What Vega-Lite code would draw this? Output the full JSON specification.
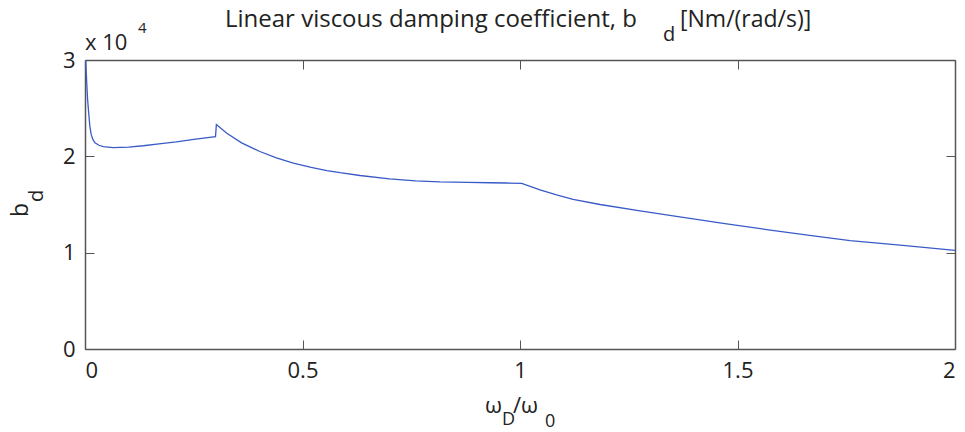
{
  "$schema": "https://vega.github.io/schema/vega-lite/v6.json",
  "width": 870,
  "height": 289,
  "autosize": "none",
  "padding": {"left": 85, "top": 60, "right": 10, "bottom": 83},
  "background": "white",
  "config": {
    "view": {"stroke": null},
    "font": "Open Sans",
    "axis": {
      "grid": false,
      "domainColor": "#555555",
      "domainWidth": 1.5,
      "tickColor": "#555555",
      "tickWidth": 1,
      "tickSize": -9,
      "labelFont": "Open Sans",
      "labelFontSize": 22,
      "labelColor": "#222222",
      "labelPadding": 19,
      "title": null
    },
    "text": {"font": "Open Sans", "color": "#222222", "fontSize": 22, "fontWeight": "normal", "align": "left", "baseline": "alphabetic"}
  },
  "layer": [
    {
      "data": {
        "name": "curve",
        "values": [
          {"w": 0.0012, "b": 30500},
          {"w": 0.002, "b": 29700},
          {"w": 0.004, "b": 27600},
          {"w": 0.006, "b": 25900},
          {"w": 0.0085, "b": 24500},
          {"w": 0.011, "b": 23200},
          {"w": 0.014, "b": 22300},
          {"w": 0.018, "b": 21750},
          {"w": 0.023, "b": 21400},
          {"w": 0.032, "b": 21150},
          {"w": 0.042, "b": 21000},
          {"w": 0.065, "b": 20900},
          {"w": 0.1, "b": 20950},
          {"w": 0.134, "b": 21100},
          {"w": 0.17, "b": 21300},
          {"w": 0.21, "b": 21500},
          {"w": 0.25, "b": 21750},
          {"w": 0.3, "b": 22050},
          {"w": 0.302, "b": 23300},
          {"w": 0.326, "b": 22400},
          {"w": 0.36, "b": 21400},
          {"w": 0.402, "b": 20500},
          {"w": 0.44, "b": 19850},
          {"w": 0.479, "b": 19300},
          {"w": 0.52, "b": 18850},
          {"w": 0.556, "b": 18520},
          {"w": 0.586, "b": 18300},
          {"w": 0.632, "b": 18010},
          {"w": 0.7, "b": 17670},
          {"w": 0.76, "b": 17460},
          {"w": 0.816, "b": 17350},
          {"w": 0.88, "b": 17290},
          {"w": 0.931, "b": 17260},
          {"w": 0.97, "b": 17230},
          {"w": 1.004, "b": 17200},
          {"w": 1.046, "b": 16510},
          {"w": 1.084, "b": 15990},
          {"w": 1.122, "b": 15540},
          {"w": 1.184, "b": 15000},
          {"w": 1.276, "b": 14330},
          {"w": 1.375, "b": 13670},
          {"w": 1.467, "b": 13050},
          {"w": 1.567, "b": 12400},
          {"w": 1.67, "b": 11770},
          {"w": 1.759, "b": 11250},
          {"w": 1.88, "b": 10760},
          {"w": 2.0, "b": 10240}
        ]
      },
      "layer": [
        {
          "mark": {"type": "line", "color": "#3a5bc7", "strokeWidth": 1.3, "clip": true},
          "encoding": {
            "x": {"field": "w", "type": "quantitative", "scale": {"domain": [0, 2], "nice": false, "zero": false},
                  "axis": {"orient": "bottom", "values": [0, 0.5, 1, 1.5, 2], "labelExpr": "datum.value + ''", "labelPadding": 20, "labelBaseline": "top"}},
            "y": {"field": "b", "type": "quantitative", "scale": {"domain": [0, 30000], "nice": false, "zero": false},
                  "axis": {"orient": "left", "values": [0, 10000, 20000, 30000], "labelExpr": "datum.value / 10000 + ''"}}
          }
        },
        {
          "mark": {"type": "line", "opacity": 0},
          "encoding": {
            "x": {"field": "w", "type": "quantitative", "axis": {"orient": "top", "values": [0, 0.5, 1, 1.5, 2], "labels": false}},
            "y": {"field": "b", "type": "quantitative", "axis": {"orient": "right", "values": [0, 10000, 20000, 30000], "labels": false}}
          }
        }
      ],
      "resolve": {"axis": {"x": "independent", "y": "independent"}}
    },
    {
      "data": {"values": [{}]},
      "mark": {"type": "text", "fontSize": 24},
      "encoding": {
        "x": {"datum": 0.3218, "type": "quantitative", "axis": null},
        "y": {"datum": 33426, "type": "quantitative", "axis": null},
        "text": {"value": "Linear viscous damping coefficient, b"}
      }
    },
    {
      "data": {"values": [{}]},
      "mark": {"type": "text", "fontSize": 20},
      "encoding": {
        "x": {"datum": 1.3287, "type": "quantitative", "axis": null},
        "y": {"datum": 31972, "type": "quantitative", "axis": null},
        "text": {"value": "d"}
      }
    },
    {
      "data": {"values": [{}]},
      "mark": {"type": "text", "fontSize": 23},
      "encoding": {
        "x": {"datum": 1.3678, "type": "quantitative", "axis": null},
        "y": {"datum": 33426, "type": "quantitative", "axis": null},
        "text": {"value": "[Nm/(rad/s)]"}
      }
    },
    {
      "data": {"values": [{}]},
      "mark": {"type": "text"},
      "encoding": {
        "x": {"datum": 0, "type": "quantitative", "axis": null},
        "y": {"datum": 31038, "type": "quantitative", "axis": null},
        "text": {"value": "x 10"}
      }
    },
    {
      "data": {"values": [{}]},
      "mark": {"type": "text", "fontSize": 15},
      "encoding": {
        "x": {"datum": 0.1218, "type": "quantitative", "axis": null},
        "y": {"datum": 32803, "type": "quantitative", "axis": null},
        "text": {"value": "4"}
      }
    },
    {
      "data": {"values": [{}]},
      "mark": {"type": "text", "angle": 270, "fontSize": 23},
      "encoding": {
        "x": {"datum": -0.131, "type": "quantitative", "axis": null},
        "y": {"datum": 13702, "type": "quantitative", "axis": null},
        "text": {"value": "b"}
      }
    },
    {
      "data": {"values": [{}]},
      "mark": {"type": "text", "angle": 270, "fontSize": 20},
      "encoding": {
        "x": {"datum": -0.0966, "type": "quantitative", "axis": null},
        "y": {"datum": 15260, "type": "quantitative", "axis": null},
        "text": {"value": "d"}
      }
    },
    {
      "data": {"values": [{}]},
      "mark": {"type": "text"},
      "encoding": {
        "x": {"datum": 0.9195, "type": "quantitative", "axis": null},
        "y": {"datum": -6644, "type": "quantitative", "axis": null},
        "text": {"value": "ω"}
      }
    },
    {
      "data": {"values": [{}]},
      "mark": {"type": "text", "fontSize": 18},
      "encoding": {
        "x": {"datum": 0.9586, "type": "quantitative", "axis": null},
        "y": {"datum": -7889, "type": "quantitative", "axis": null},
        "text": {"value": "D"}
      }
    },
    {
      "data": {"values": [{}]},
      "mark": {"type": "text"},
      "encoding": {
        "x": {"datum": 0.9839, "type": "quantitative", "axis": null},
        "y": {"datum": -6644, "type": "quantitative", "axis": null},
        "text": {"value": "/ω"}
      }
    },
    {
      "data": {"values": [{}]},
      "mark": {"type": "text", "fontSize": 18},
      "encoding": {
        "x": {"datum": 1.0575, "type": "quantitative", "axis": null},
        "y": {"datum": -8097, "type": "quantitative", "axis": null},
        "text": {"value": "0"}
      }
    }
  ]
}
